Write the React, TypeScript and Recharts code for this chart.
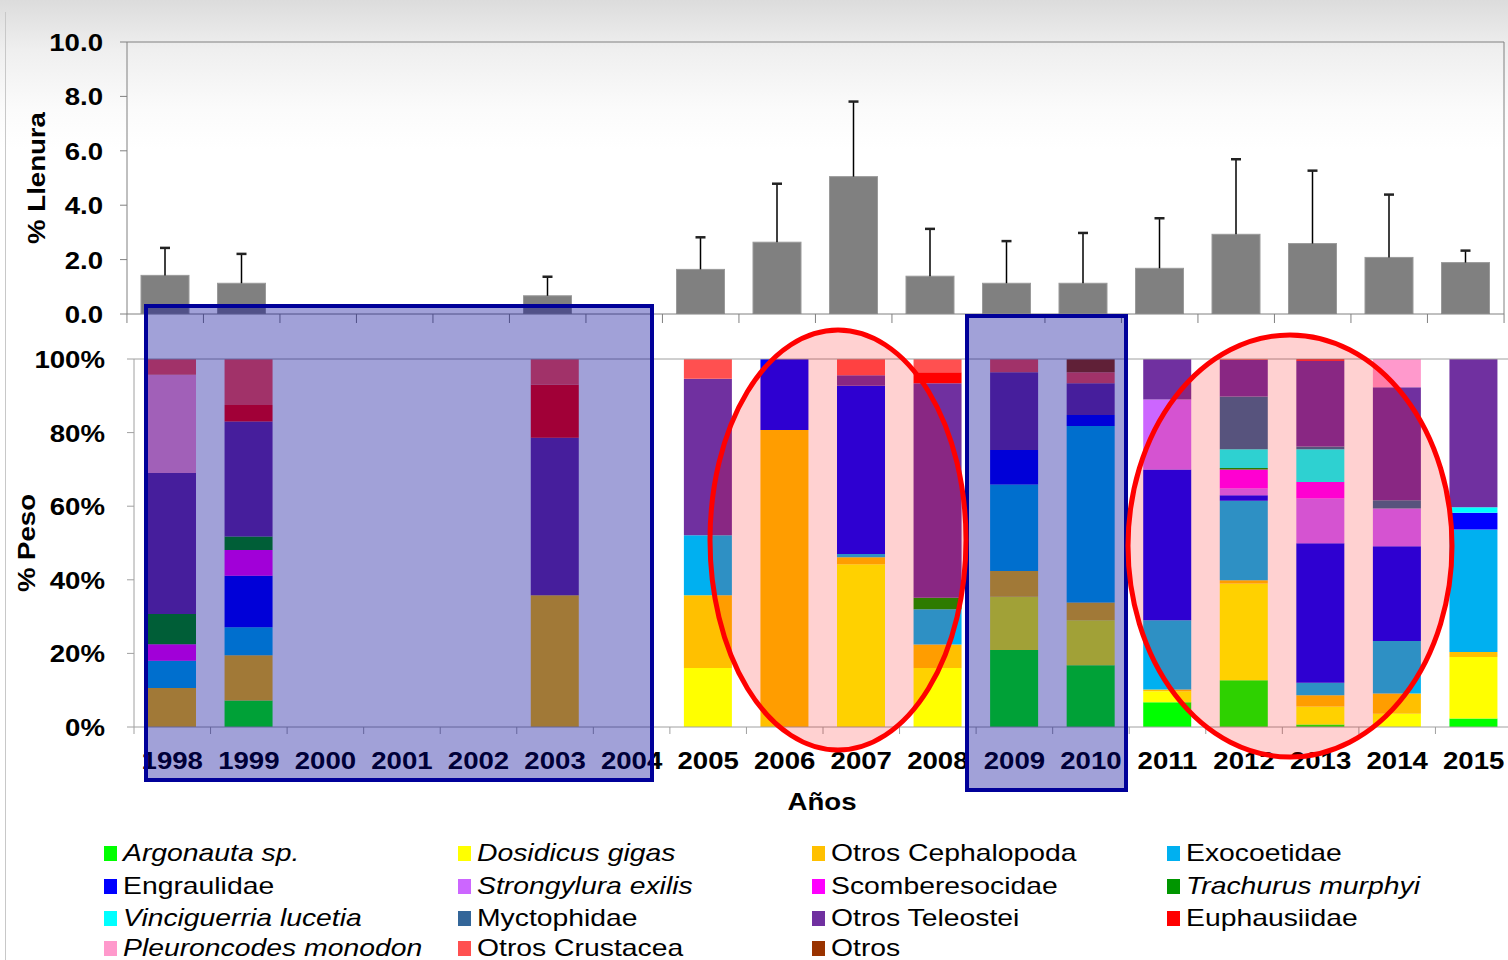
import React from "react";
import { BarChart, Bar, XAxis, YAxis, ReferenceLine } from "recharts";

const years = ["1998", "1999", "2000", "2001", "2002", "2003", "2004", "2005", "2006", "2007", "2008", "2009", "2010", "2011", "2012", "2013", "2014", "2015"];

// % Llenura (mean) and its upper standard deviation
const llenura = [1.42, 1.13, null, null, null, 0.67, null, 1.64, 2.64, 5.05, 1.39, 1.13, 1.13, 1.68, 2.93, 2.59, 2.08, 1.89];
const llenuraSd = [1.01, 1.08, null, null, null, 0.7, null, 1.18, 2.15, 2.76, 1.74, 1.55, 1.85, 1.84, 2.76, 2.68, 2.31, 0.44];

const llenuraTicks = [0, 2, 4, 6, 8, 10];
const pesoTicks = [0, 20, 40, 60, 80, 100];

// % Peso per prey group, stacked bottom-up in this order
const argonauta = [0, 7.2, 0, 0, 0, 0, 0, 0, 0, 0, 0, 20.9, 16.8, 6.7, 12.7, 0.7, 0, 2.3];
const dosidicus = [0, 0, 0, 0, 0, 0, 0, 16.0, 0, 44.2, 16.0, 14.5, 12.2, 3.0, 26.3, 4.9, 3.6, 16.7];
const otrosCephalopoda = [10.6, 12.3, 0, 0, 0, 35.8, 0, 19.8, 80.7, 1.9, 6.4, 7.0, 4.8, 0.5, 0.9, 3.0, 5.5, 1.4];
const exocoetidae = [7.4, 7.6, 0, 0, 0, 0, 0, 16.3, 0, 0.9, 9.6, 23.5, 48.0, 18.8, 21.6, 3.4, 14.3, 33.3];
const engraulidae = [0, 14.0, 0, 0, 0, 0, 0, 0, 19.3, 45.7, 0, 9.4, 3.0, 41.0, 1.5, 37.9, 25.7, 4.5];
const strongylura = [0, 0, 0, 0, 0, 0, 0, 0, 0, 0, 0, 0, 0, 19.0, 1.8, 12.2, 10.3, 0];
const scomberesocidae = [4.5, 7.0, 0, 0, 0, 0, 0, 0, 0, 0, 0, 0, 0, 0, 5.2, 4.5, 0, 0];
const trachurus = [8.2, 3.7, 0, 0, 0, 0, 0, 0, 0, 0, 3.1, 0, 0, 0, 0.4, 0, 0, 0];
const vinciguerria = [0, 0, 0, 0, 0, 0, 0, 0, 0, 0, 0, 0, 0, 0, 5.1, 8.9, 0, 1.5];
const myctophidae = [0, 0, 0, 0, 0, 0, 0, 0, 0, 0, 0, 0, 0, 0, 14.3, 0.7, 2.2, 0];
const otrosTeleostei = [38.3, 31.2, 0, 0, 0, 42.8, 0, 42.5, 0, 2.9, 58.3, 21.1, 8.6, 11.0, 9.9, 23.3, 30.7, 40.3];
const euphausiidae = [0, 4.5, 0, 0, 0, 14.5, 0, 0, 0, 0, 3.0, 0, 0, 0, 0, 0.5, 0, 0];
const pleuroncodes = [26.7, 0, 0, 0, 0, 0, 0, 0, 0, 0, 0, 0, 0, 0, 0, 0, 7.7, 0];
const otrosCrustacea = [4.3, 12.5, 0, 0, 0, 6.9, 0, 5.4, 0, 4.4, 3.6, 3.6, 3.0, 0, 0.3, 0, 0, 0];
const otros = [0, 0, 0, 0, 0, 0, 0, 0, 0, 0, 0, 0, 3.6, 0, 0, 0, 0, 0];

const series = [
  { key: "argonauta", name: "Argonauta sp.", italic: true, color: "#00ff00", values: argonauta },
  { key: "dosidicus", name: "Dosidicus gigas", italic: true, color: "#ffff00", values: dosidicus },
  { key: "otrosCeph", name: "Otros Cephalopoda", italic: false, color: "#ffc000", values: otrosCephalopoda },
  { key: "exocoetidae", name: "Exocoetidae", italic: false, color: "#00b0f0", values: exocoetidae },
  { key: "engraulidae", name: "Engraulidae", italic: false, color: "#0000ff", values: engraulidae },
  { key: "strongylura", name: "Strongylura exilis", italic: true, color: "#cc66ff", values: strongylura },
  { key: "scomberesocidae", name: "Scomberesocidae", italic: false, color: "#ff00ff", values: scomberesocidae },
  { key: "trachurus", name: "Trachurus murphyi", italic: true, color: "#009600", values: trachurus },
  { key: "vinciguerria", name: "Vinciguerria lucetia", italic: true, color: "#00ffff", values: vinciguerria },
  { key: "myctophidae", name: "Myctophidae", italic: false, color: "#336699", values: myctophidae },
  { key: "otrosTeleostei", name: "Otros Teleostei", italic: false, color: "#7030a0", values: otrosTeleostei },
  { key: "euphausiidae", name: "Euphausiidae", italic: false, color: "#ff0000", values: euphausiidae },
  { key: "pleuroncodes", name: "Pleuroncodes monodon", italic: true, color: "#ff99cc", values: pleuroncodes },
  { key: "otrosCrustacea", name: "Otros Crustacea", italic: false, color: "#ff5050", values: otrosCrustacea },
  { key: "otros", name: "Otros", italic: false, color: "#993300", values: otros },
];

const topData = years.map((year, i) => ({ year, llenura: llenura[i], sd: llenuraSd[i] }));
const pesoData = years.map((year, i) => {
  const row: any = { year };
  series.forEach((s) => (row[s.key] = s.values[i]));
  return row;
});

const FONT = '"Liberation Sans", Arial, sans-serif';
const STRETCH = 1.15;
const LEGEND_STRETCH = 1.18;
const TOP_BAND = (1506 - 127) / years.length;
const BOT_BAND = (1512 - 134) / years.length;

function WideText({ x, y, anchor = "middle", rotate = 0, weight = "bold", size = 24, children }: any) {
  return (
    <text
      transform={`translate(${x},${y}) rotate(${rotate}) scale(${STRETCH},1)`}
      textAnchor={anchor}
      fontFamily={FONT}
      fontSize={size}
      fontWeight={weight}
      fill="#000"
    >
      {children}
    </text>
  );
}

const LlenuraBar = (props: any) => {
  const { x, y, width, height, payload } = props;
  if (!height || height <= 0 || !payload.llenura) return <g />;
  const pxPerUnit = height / payload.llenura;
  const top = y - payload.sd * pxPerUnit;
  const cx = x + width / 2;
  return (
    <g>
      <rect x={x} y={y} width={width} height={height} fill="#808080" stroke="#9a9a9a" strokeWidth={1} />
      <line x1={cx} x2={cx} y1={y} y2={top} stroke="#000" strokeWidth={1.5} />
      <line x1={cx - 5} x2={cx + 5} y1={top} y2={top} stroke="#222" strokeWidth={2.5} />
    </g>
  );
};

const topXTick = (p: any) => {
  const { x, y, index } = p;
  const l = x - TOP_BAND / 2;
  return (
    <g>
      <line x1={l} x2={l} y1={y} y2={y + 9} stroke="#808080" />
      {index === years.length - 1 && <line x1={x + TOP_BAND / 2} x2={x + TOP_BAND / 2} y1={y} y2={y + 9} stroke="#808080" />}
    </g>
  );
};

const bottomXTick = (p: any) => {
  const { x, y, index, payload } = p;
  const l = x - BOT_BAND / 2;
  return (
    <g>
      <line x1={l} x2={l} y1={y} y2={y + 7} stroke="#a0a0a0" />
      {index === years.length - 1 && <line x1={x + BOT_BAND / 2} x2={x + BOT_BAND / 2} y1={y} y2={y + 7} stroke="#a0a0a0" />}
      <WideText x={x} y={y + 42}>{payload.value}</WideText>
    </g>
  );
};

const topYTick = (p: any) => (
  <WideText x={p.x} y={p.y + 9} anchor="end">{Number(p.payload.value).toFixed(1)}</WideText>
);

const bottomYTick = (p: any) => (
  <WideText x={p.x} y={p.y + 9} anchor="end">{`${p.payload.value}%`}</WideText>
);

const legendCols = [104, 458, 812, 1167];
const legendRows = [853, 886, 918, 948];

export default function App() {
  return (
    <div
      style={{
        position: "absolute",
        left: 0,
        top: 0,
        width: 1508,
        height: 960,
        overflow: "hidden",
        background: "linear-gradient(to bottom, #dcdcdc 0px, #efefef 50px, #fbfbfb 110px, #ffffff 150px)",
        fontFamily: FONT,
      }}
    >
      <div style={{ position: "absolute", left: 5, top: 12, width: 1, height: 948, background: "#c8c8c8" }} />

      <div style={{ position: "absolute", left: 0, top: 0 }}>
        <BarChart width={1508} height={330} data={topData} margin={{ top: 42, right: 2, bottom: 0, left: 0 }} barSize={48}>
          <XAxis
            dataKey="year"
            height={16}
            interval={0}
            tickSize={0}
            tickMargin={0}
            tickLine={false}
            axisLine={{ stroke: "#808080" }}
            tick={topXTick}
          />
          <YAxis
            width={127}
            domain={[0, 10]}
            ticks={llenuraTicks}
            allowDataOverflow
            tickSize={7}
            tickMargin={17}
            axisLine={{ stroke: "#808080" }}
            tickLine={{ stroke: "#808080" }}
            tick={topYTick}
            label={(lp: any) => {
              const vb = lp.viewBox || { y: 42, height: 272 };
              return (
                <WideText x={45} y={vb.y + vb.height / 2} rotate={-90}>% Llenura</WideText>
              );
            }}
          />
          <YAxis yAxisId="r" orientation="right" width={2} tick={false} tickLine={false} axisLine={{ stroke: "#808080" }} />
          <ReferenceLine y={10} stroke="#808080" />
          <Bar dataKey="llenura" shape={LlenuraBar} isAnimationActive={false} />
        </BarChart>
      </div>

      <div style={{ position: "absolute", left: 0, top: 330 }}>
        <BarChart width={1512} height={500} data={pesoData} margin={{ top: 29, right: 0, bottom: 0, left: 0 }} barSize={48}>
          <XAxis
            dataKey="year"
            height={103}
            interval={0}
            tickSize={0}
            tickMargin={0}
            tickLine={false}
            axisLine={{ stroke: "#a0a0a0" }}
            tick={bottomXTick}
            label={(lp: any) => {
              const vb = lp.viewBox || { x: 134, y: 397, width: 1378 };
              return (
                <WideText x={822} y={vb.y + 83}>Años</WideText>
              );
            }}
          />
          <YAxis
            width={134}
            domain={[0, 100]}
            ticks={pesoTicks}
            allowDataOverflow
            tickSize={7}
            tickMargin={22}
            axisLine={{ stroke: "#a0a0a0" }}
            tickLine={{ stroke: "#a0a0a0" }}
            tick={bottomYTick}
            label={(lp: any) => {
              const vb = lp.viewBox || { y: 29, height: 368 };
              return (
                <WideText x={35} y={vb.y + vb.height / 2} rotate={-90}>% Peso</WideText>
              );
            }}
          />
          <ReferenceLine y={100} stroke="#a0a0a0" />
          {series.map((s) => (
            <Bar key={s.key} dataKey={s.key} name={s.name} stackId="peso" fill={s.color} isAnimationActive={false} />
          ))}
        </BarChart>
      </div>

      {series.map((s, i) => {
        const left = legendCols[i % 4];
        const cy = legendRows[Math.floor(i / 4)];
        return (
          <div key={s.key} style={{ position: "absolute", left, top: cy - 14, height: 28, whiteSpace: "nowrap" }}>
            <div style={{ position: "absolute", left: 0, top: 7, width: 13, height: 15, background: s.color }} />
            <span
              style={{
                position: "absolute",
                left: 19,
                top: 0,
                fontSize: 24,
                lineHeight: "28px",
                fontStyle: s.italic ? "italic" : "normal",
                color: "#000",
                display: "inline-block",
                transform: `scaleX(${LEGEND_STRETCH})`,
                transformOrigin: "left center",
              }}
            >
              {s.name}
            </span>
          </div>
        );
      })}

      <svg width={1508} height={960} style={{ position: "absolute", left: 0, top: 0, pointerEvents: "none" }}>
        <rect x={146} y={306} width={506} height={474} fill="rgba(0,0,149,0.37)" stroke="#000099" strokeWidth={4} />
        <rect x={967} y={316} width={159} height={474} fill="rgba(0,0,149,0.37)" stroke="#000099" strokeWidth={4} />
        <ellipse cx={838} cy={540} rx={128} ry={210} fill="rgba(255,0,0,0.18)" stroke="#ff0000" strokeWidth={5} />
        <ellipse cx={1290} cy={546} rx={162} ry={211} fill="rgba(255,0,0,0.18)" stroke="#ff0000" strokeWidth={5} />
      </svg>
    </div>
  );
}
